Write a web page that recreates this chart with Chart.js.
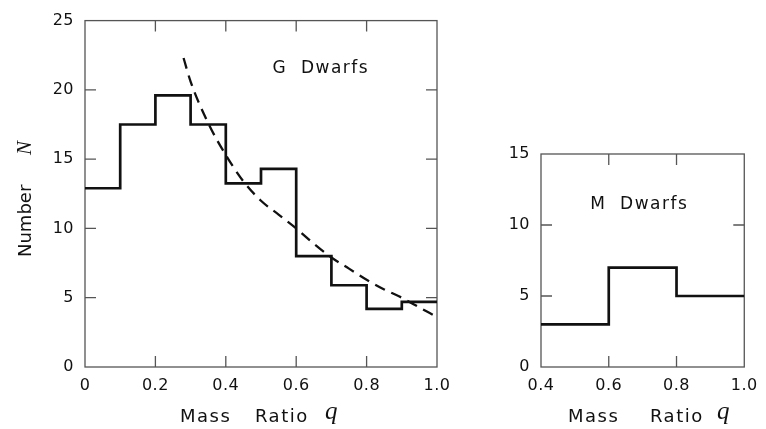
<!DOCTYPE html>
<html>
<head>
<meta charset="utf-8">
<script src="https://cdn.jsdelivr.net/npm/chart.js@4.4.1/dist/chart.umd.min.js"></script>
<style>
  html, body { margin: 0; padding: 0; background: #fff; }
  #wrap { position: relative; width: 766px; height: 429px; overflow: hidden; }
  #gBox { position: absolute; left: 0; top: 0; }
  #mBox { position: absolute; left: 480px; top: 0; }
</style>
</head>
<body>
<div id="wrap">
  <div id="gBox"><canvas id="gChart" width="470" height="429"></canvas></div>
  <div id="mBox"><canvas id="mChart" width="286" height="429"></canvas></div>
</div>
<script>
// G dwarfs histogram (bin edges + counts)
const gEdges = [0, 0.1, 0.2, 0.3, 0.4, 0.5, 0.6, 0.7, 0.8, 0.9, 1.0];
const gCounts = [12.9, 17.5, 19.6, 17.5, 13.25, 14.3, 8.0, 5.9, 4.2, 4.7];
// dashed fit curve
const fitQ = [0.28, 0.30, 0.35, 0.40, 0.45, 0.50, 0.55, 0.60, 0.65, 0.70, 0.75, 0.80, 0.85, 0.90, 0.95, 1.00];
const fitN = [22.3, 20.6, 17.6, 15.3, 13.4, 12.0, 11.0, 10.0, 8.9, 7.9, 7.1, 6.3, 5.6, 5.0, 4.3, 3.6];
// M dwarfs histogram
const mEdges = [0.4, 0.6, 0.8, 1.0];
const mCounts = [3, 7, 5];

const SANS = '"DejaVu Sans", Verdana, sans-serif';
const SERIF = '"Liberation Serif", "DejaVu Serif", serif';
const INK = '#111';

function histPoints(edges, counts) {
  const pts = counts.map((c, i) => ({ x: edges[i], y: c }));
  pts.push({ x: edges[edges.length - 1], y: counts[counts.length - 1] });
  return pts;
}

const framePlugin = {
  id: 'frame',
  beforeDraw(chart) {
    chart.ctx.letterSpacing = '0.5px';
  },
  beforeDatasetsDraw(chart) {
    const { ctx, chartArea: a, scales } = chart;
    const len = 11;
    ctx.save();
    ctx.strokeStyle = '#555';
    ctx.lineWidth = 1.3;
    ctx.strokeRect(a.left, a.top, a.right - a.left, a.bottom - a.top);
    ctx.beginPath();
    scales.x.ticks.forEach(t => {
      const px = scales.x.getPixelForValue(t.value);
      if (px <= a.left + 1 || px >= a.right - 1) return;
      ctx.moveTo(px, a.bottom); ctx.lineTo(px, a.bottom - len);
      ctx.moveTo(px, a.top); ctx.lineTo(px, a.top + len);
    });
    scales.y.ticks.forEach(t => {
      const py = scales.y.getPixelForValue(t.value);
      if (py <= a.top + 1 || py >= a.bottom - 1) return;
      ctx.moveTo(a.left, py); ctx.lineTo(a.left + len, py);
      ctx.moveTo(a.right, py); ctx.lineTo(a.right - len, py);
    });
    ctx.stroke();
    ctx.restore();
  },
  afterDraw(chart, args, opts) {
    const { ctx, chartArea: a, scales } = chart;
    ctx.save();
    ctx.fillStyle = INK;
    ctx.textBaseline = 'alphabetic';
    // label inside the plot
    ctx.letterSpacing = '1.5px';
    ctx.font = '17px ' + SANS;
    ctx.textAlign = 'center';
    ctx.fillText(opts.label, scales.x.getPixelForValue(opts.labelAt[0]), scales.y.getPixelForValue(opts.labelAt[1]));
    // x title: Mass  Ratio  q
    ctx.textAlign = 'left';
    const xt = opts.xTitle;
    ctx.font = '18px ' + SANS;
    ctx.fillText('Mass', a.left + xt[0], 422);
    ctx.fillText('Ratio', a.left + xt[1], 422);
    ctx.letterSpacing = '0px';
    ctx.font = 'italic 25px ' + SERIF;
    ctx.fillText('q', a.left + xt[2], 419);
    // y title
    if (opts.yTitle) {
      ctx.translate(31, 257);
      ctx.rotate(-Math.PI / 2);
      ctx.font = '18px ' + SANS;
      ctx.fillText('Number', 0, 0);
      ctx.font = 'italic 21px ' + SERIF;
      ctx.fillText('N', 102, 0);
    }
    ctx.restore();
  }
};

function makeOptions(xMin, yMax, fit, label) {
  return {
    responsive: false,
    animation: false,
    events: [],
    layout: { autoPadding: false, padding: fit.padding },
    plugins: {
      legend: { display: false },
      tooltip: { enabled: false },
      frame: label
    },
    scales: {
      x: {
        type: 'linear',
        min: xMin, max: 1.0,
        grid: { display: false, drawTicks: false },
        border: { display: false },
        afterFit: s => { s.height = 62; },
        ticks: {
          stepSize: 0.2,
          padding: 9,
          maxRotation: 0,
          color: INK,
          font: { family: SANS, size: 16 },
          callback: v => (Math.abs(v) < 1e-9 ? '0' : v.toFixed(1))
        }
      },
      y: {
        min: 0, max: yMax,
        grid: { display: false, drawTicks: false },
        border: { display: false },
        afterFit: s => { s.width = fit.yWidth; },
        ticks: {
          stepSize: 5,
          padding: 11,
          color: INK,
          font: { family: SANS, size: 16 }
        }
      }
    }
  };
}

new Chart(document.getElementById('gChart'), {
  type: 'line',
  data: {
    datasets: [
      {
        data: histPoints(gEdges, gCounts),
        stepped: true,
        borderColor: '#111',
        borderWidth: 2.7,
        pointRadius: 0,
        fill: false
      },
      {
        data: fitQ.map((q, i) => ({ x: q, y: fitN[i] })),
        borderColor: '#111',
        borderWidth: 2.3,
        borderDash: [11, 7],
        cubicInterpolationMode: 'monotone',
        pointRadius: 0,
        fill: false
      }
    ]
  },
  options: makeOptions(0, 25,
    { padding: { left: 0, right: 33, top: 13, bottom: 0 }, yWidth: 85 },
    { label: 'G  Dwarfs', labelAt: [0.67, 21.2], xTitle: [95, 170, 240], yTitle: true }),
  plugins: [framePlugin]
});

new Chart(document.getElementById('mChart'), {
  type: 'line',
  data: {
    datasets: [
      {
        data: histPoints(mEdges, mCounts),
        stepped: true,
        borderColor: '#111',
        borderWidth: 2.7,
        pointRadius: 0,
        fill: false
      }
    ]
  },
  options: makeOptions(0.4, 15,
    { padding: { left: 0, right: 15, top: 154, bottom: 0 }, yWidth: 61 },
    { label: 'M  Dwarfs', labelAt: [0.69, 11.1], xTitle: [27, 109, 176], yTitle: false }),
  plugins: [framePlugin]
});
</script>
</body>
</html>
